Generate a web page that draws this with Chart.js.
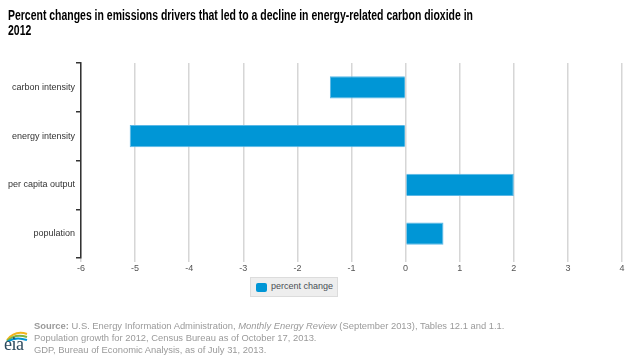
<!DOCTYPE html>
<html>
<head>
<meta charset="utf-8">
<script src="https://cdn.jsdelivr.net/npm/chart.js@4"></script>
<style>
  html, body { margin: 0; padding: 0; background: #fff; }
  body { width: 630px; height: 357px; position: relative; overflow: hidden; font-family: "Liberation Sans", Arial, sans-serif; }
  #title { position: absolute; left: 8px; top: 8px; font-size: 14px; font-weight: bold; color: #000; line-height: 15px; white-space: nowrap; transform-origin: 0 0; }
  #wrap { position: absolute; left: 0; top: 0; width: 630px; height: 357px; }
  #legend { position: absolute; left: 250px; top: 277px; width: 86px; height: 18px; background: #eeeeee; border: 1px solid #dcdcdc; box-sizing: content-box; }
  #legend .sw { position: absolute; left: 5px; top: 5px; width: 11px; height: 9px; background: #0096d6; border-radius: 2px; }
  #legend .tx { position: absolute; left: 20px; top: 3px; font-size: 9px; color: #4a4f55; white-space: nowrap; }
  #source { position: absolute; left: 34px; top: 320px; font-size: 9.4px; line-height: 12px; color: #9a9a9a; white-space: nowrap; }
  #logo { position: absolute; left: 3px; top: 328px; width: 26px; height: 26px; }
  #logo .t { position: absolute; left: 1px; top: 6px; font-family: "Liberation Serif", serif; font-size: 18px; color: #2d4a5e; letter-spacing: -0.5px; }
</style>
</head>
<body>
<div id="wrap"><canvas id="c" width="630" height="357"></canvas></div>
<div id="title"><span id="tl1">Percent changes in emissions drivers that led to a decline in energy-related carbon dioxide in</span><br>2012</div>
<div id="legend"><div class="sw"></div><div class="tx">percent change</div></div>
<div id="logo">
  <svg width="26" height="14" style="position:absolute;left:0;top:0">
    <path d="M4 12 Q12 2 24 6" stroke="#f2b51c" stroke-width="2" fill="none"/>
    <path d="M4 13 Q12 5 24 9" stroke="#7cb342" stroke-width="2" fill="none"/>
    <path d="M4 14 Q12 8 24 12" stroke="#0096d6" stroke-width="2" fill="none"/>
  </svg>
  <span class="t">eia</span>
</div>
<div id="source"><b>Source:</b> U.S. Energy Information Administration, <i>Monthly Energy Review</i> (September 2013), Tables 12.1 and 1.1.<br>Population growth for 2012, Census Bureau as of October 17, 2013.<br>GDP, Bureau of Economic Analysis, as of July 31, 2013.</div>
<script>
const categories = ['carbon intensity', 'energy intensity', 'per capita output', 'population'];
const percentChange = [-1.4, -5.1, 2.0, 0.7];
const xTicks = [-6, -5, -4, -3, -2, -1, 0, 1, 2, 3, 4];

// fit title width to reference
(function(){
  const t = document.getElementById('title');
  const l1 = document.getElementById('tl1');
  const w = l1.getBoundingClientRect().width;
  const s = 465 / w;
  t.style.transform = 'scaleX(' + s + ')';
})();

const ctx = document.getElementById('c').getContext('2d');
new Chart(ctx, {
  type: 'bar',
  data: {
    labels: categories,
    datasets: [{
      label: 'percent change',
      data: percentChange,
      backgroundColor: '#0096d6',
      borderColor: '#5cb8e6',
      borderWidth: 1,
      barPercentage: 0.46,
      categoryPercentage: 1.0
    }]
  },
  options: {
    indexAxis: 'y',
    responsive: false,
    animation: false,
    layout: { padding: { top: 63, right: 8, left: 0, bottom: 0 } },
    plugins: { legend: { display: false }, title: { display: false }, tooltip: { enabled: false } },
    scales: {
      x: {
        type: 'linear',
        min: xTicks[0],
        max: xTicks[xTicks.length - 1],
        afterBuildTicks: (s) => { s.ticks = xTicks.map(v => ({ value: v })); },
        afterFit: (s) => { s.height = 357 - 258; },
        border: { display: false },
        grid: { color: '#d6d6d6', lineWidth: 1.5, tickLength: 4, drawTicks: true },
        ticks: { color: '#555', font: { family: 'Liberation Sans', size: 9 }, padding: 1, maxRotation: 0 }
      },
      y: {
        afterFit: (s) => { s.width = 81; },
        offset: true,
        border: { display: true, color: '#333', width: 1.5 },
        grid: { offset: true, drawOnChartArea: false, color: '#333', tickLength: 5, lineWidth: 1.5 },
        ticks: { color: '#333', font: { family: 'Liberation Sans', size: 9 }, padding: 1 }
      }
    }
  }
});
</script>
</body>
</html>
